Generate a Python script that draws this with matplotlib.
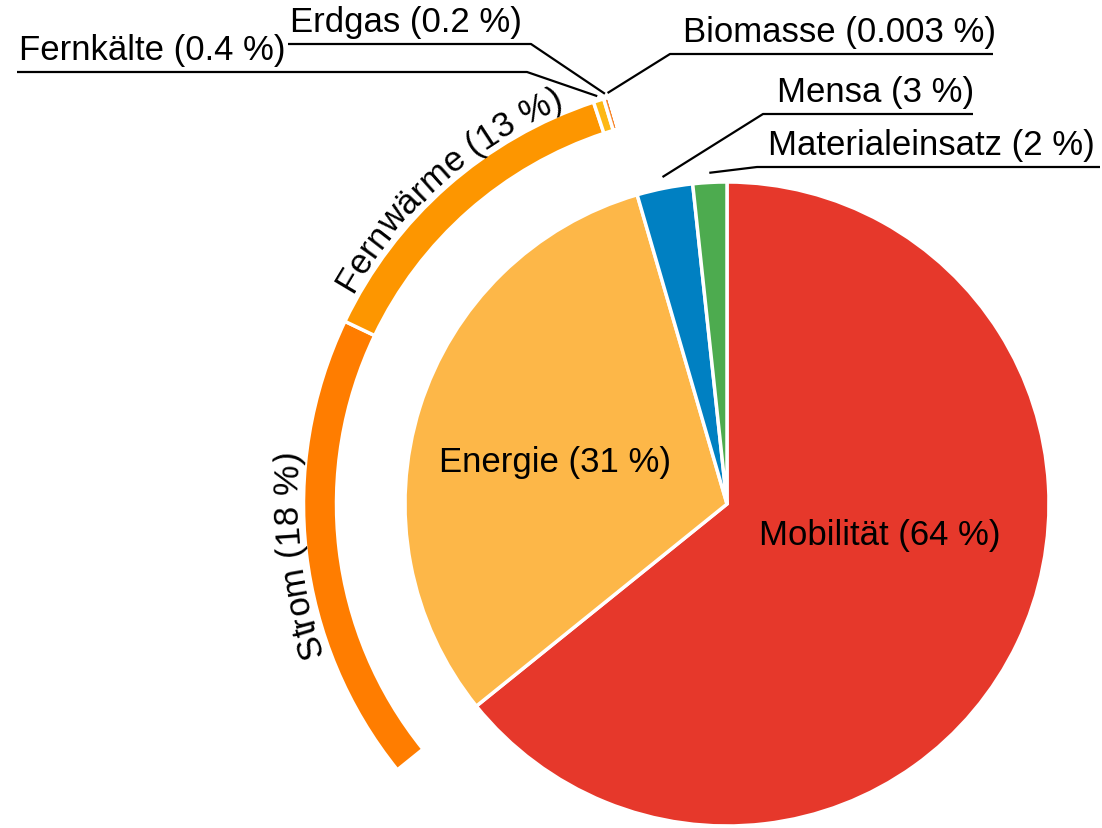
import numpy as np
import matplotlib
matplotlib.use("Agg")
import matplotlib.pyplot as plt
from matplotlib.font_manager import FontProperties, findfont, get_font

plt.rcParams['font.family'] = ['Liberation Sans', 'DejaVu Sans']

# inner pie (share of total emissions)
inner_labels = ["Mobilität", "Energie", "Mensa", "Materialeinsatz"]
inner_values = [64.2, 31.3, 2.8, 1.7]
inner_pct = ["64", "31", "3", "2"]
inner_colors = ["#E6382B", "#FDB748", "#0080C2", "#4DAB4F"]

# outer ring: breakdown of "Energie"
energy_labels = ["Strom", "Fernwärme", "Fernkälte", "Erdgas", "Biomasse"]
energy_values = [17.9, 12.8, 0.4, 0.2, 0.003]
energy_pct = ["18", "13", "0.4", "0.2", "0.003"]
energy_colors = ["#FF7D00", "#FD9600", "#FDB813", "#F7862A", "#9BBB59"]

W, H, DPI = 1102, 829, 100
CX, CY, R = 727, 505, 322          # pie centre / radius in pixels
FS = 25


def px(x, y):
    # pixel position -> data units (pie radius = 1)
    return (x - CX) / R, (CY - y) / R


fig = plt.figure(figsize=(W / DPI, H / DPI), dpi=DPI)
ax = fig.add_axes([0, 0, 1, 1])

wedges, _ = ax.pie(inner_values, radius=1.0, startangle=90, counterclock=False,
                   colors=inner_colors,
                   wedgeprops=dict(edgecolor="white", linewidth=2.5))

ring_values = [inner_values[0]] + energy_values + inner_values[2:]
ring_colors = ["none"] + energy_colors + ["none", "none"]
ring_r = 423.5 / R
ring, _ = ax.pie(ring_values, radius=ring_r, startangle=90, counterclock=False,
                 colors=ring_colors,
                 wedgeprops=dict(width=33 / R, edgecolor="white", linewidth=2.5))
ring[0].set_visible(False)
ring[-1].set_visible(False)
ring[-2].set_visible(False)
energy_wedges = ring[1:1 + len(energy_values)]

ax.set_xlim(-CX / R, (W - CX) / R)
ax.set_ylim((CY - H) / R, CY / R)
ax.set_aspect("auto")
ax.axis("off")

# labels inside the pie
ax.text(*px(880, 535), f"{inner_labels[0]} ({inner_pct[0]} %)", fontsize=FS,
        ha="center", va="center")
ax.text(*px(555, 463), f"{inner_labels[1]} ({inner_pct[1]} %)", fontsize=FS,
        ha="center", va="center")

# curved labels along the ring
fp = FontProperties(family="Liberation Sans")
font = get_font(findfont(fp))
font.set_size(FS, DPI)


def curved_text(s, mid_deg, radius_px):
    advs = [font.load_char(ord(c)).linearHoriAdvance / 65536 for c in s]
    total = sum(advs) / radius_px
    theta = np.radians(mid_deg) + total / 2
    for c, a in zip(s, advs):
        t = theta - a / 2 / radius_px
        x = radius_px * np.cos(t) / R
        y = radius_px * np.sin(t) / R
        ax.text(x, y, c, fontsize=FS, rotation=np.degrees(t) - 90,
                rotation_mode="anchor", ha="center", va="baseline")
        theta -= a / radius_px


for i in range(2):
    w = energy_wedges[i]
    mid = (w.theta1 + w.theta2) / 2
    curved_text(f"{energy_labels[i]} ({energy_pct[i]} %)", mid, 430)


def mid_point(w, r):
    a = np.radians((w.theta1 + w.theta2) / 2)
    return r * np.cos(a), r * np.sin(a)


# leader-line labels: (wedge, label, elbow px, line end px, text x px, baseline px, anchor radius)
callouts = [
    (energy_wedges[4], f"{energy_labels[4]} ({energy_pct[4]} %)", (670, 55), 993, 683, 42, 428 / R),
    (energy_wedges[3], f"{energy_labels[3]} ({energy_pct[3]} %)", (531, 45), 288, 290, 32, 428 / R),
    (energy_wedges[2], f"{energy_labels[2]} ({energy_pct[2]} %)", (527, 73), 17, 19, 60, 428 / R),
    (wedges[2], f"{inner_labels[2]} ({inner_pct[2]} %)", (763, 115), 973, 777, 102, 1.035),
    (wedges[3], f"{inner_labels[3]} ({inner_pct[3]} %)", (757, 168), 1100, 768, 155, 1.03),
]
for w, label, elbow, end_x, tx, ty, ar in callouts:
    x0, y0 = mid_point(w, ar)
    ex, ey = px(*elbow)
    lx, _ = px(end_x, elbow[1])
    ax.plot([x0, ex, lx], [y0, ey, ey], color="black", lw=1.6,
            solid_capstyle="butt")
    ax.text(*px(tx, ty), label, fontsize=FS, ha="left", va="baseline")

fig.savefig("out.png", dpi=DPI, facecolor="white")
